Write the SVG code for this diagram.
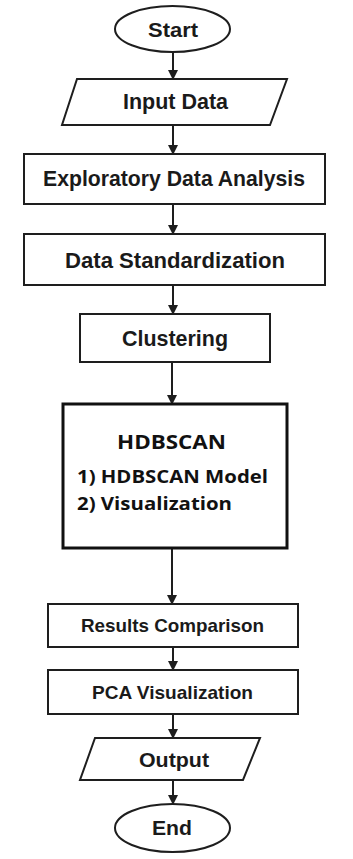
<svg xmlns="http://www.w3.org/2000/svg" width="353" height="859" viewBox="0 0 353 859">
<defs>
<style>
.shape{fill:#fff;stroke:#1e1e1e;stroke-width:2}
.thick{fill:#fff;stroke:#111;stroke-width:3}
.t{font-family:"Liberation Sans",Arial,sans-serif;font-weight:bold;fill:#1a1a1a;text-anchor:middle}
.h{font-family:"Open Sans","Noto Sans",sans-serif;font-weight:bold;fill:#111}
.c{stroke:#1e1e1e;stroke-width:2;fill:none;marker-end:url(#arr)}
</style>
<marker id="arr" markerWidth="10" markerHeight="10" refX="9" refY="5" orient="auto" markerUnits="userSpaceOnUse">
<path d="M0,0 L10,5 L0,10 Z" fill="#1e1e1e"/>
</marker>
</defs>
<rect width="353" height="859" fill="#fff"/>
<g id="connectors">
<line class="c" x1="173" y1="52" x2="173" y2="79"/>
<line class="c" x1="173" y1="125" x2="173" y2="154"/>
<line class="c" x1="173" y1="204" x2="173" y2="234"/>
<line class="c" x1="173" y1="285" x2="173" y2="314"/>
<line class="c" x1="172" y1="362" x2="172" y2="404"/>
<line class="c" x1="172" y1="548" x2="172" y2="604"/>
<line class="c" x1="173" y1="647" x2="173" y2="670"/>
<line class="c" x1="173" y1="714" x2="173" y2="738"/>
<line class="c" x1="173" y1="780" x2="173" y2="804"/>
</g>
<g id="start">
<ellipse class="shape" cx="172.5" cy="29" rx="57.5" ry="23"/>
<text class="t" x="173" y="37" font-size="21" textLength="50" lengthAdjust="spacingAndGlyphs">Start</text>
</g>
<g id="input">
<polygon class="shape" points="77,79 287,79 270,125 62,125"/>
<text class="t" x="175.5" y="109" font-size="21.5" textLength="105" lengthAdjust="spacingAndGlyphs">Input Data</text>
</g>
<g id="eda">
<rect class="shape" x="24" y="154" width="301" height="50"/>
<text class="t" x="174" y="186" font-size="21.5" textLength="262" lengthAdjust="spacingAndGlyphs">Exploratory Data Analysis</text>
</g>
<g id="standardization">
<rect class="shape" x="24" y="234" width="301" height="51"/>
<text class="t" x="175" y="268" font-size="21.5" textLength="220" lengthAdjust="spacingAndGlyphs">Data Standardization</text>
</g>
<g id="clustering">
<rect class="shape" x="80" y="314" width="190" height="48"/>
<text class="t" x="175" y="346" font-size="21.5" textLength="106" lengthAdjust="spacingAndGlyphs">Clustering</text>
</g>
<g id="hdbscan">
<rect class="thick" x="63" y="404" width="224" height="144"/>
<text class="h" x="171.5" y="449" font-size="20" text-anchor="middle" textLength="109" lengthAdjust="spacingAndGlyphs">HDBSCAN</text>
<text class="h" x="77" y="483" font-size="18" textLength="191" lengthAdjust="spacingAndGlyphs">1) HDBSCAN Model</text>
<text class="h" x="77" y="510" font-size="18" textLength="155" lengthAdjust="spacingAndGlyphs">2) Visualization</text>
</g>
<g id="results">
<rect class="shape" x="48" y="604" width="250" height="43"/>
<text class="t" x="172.5" y="632" font-size="18.5" textLength="183" lengthAdjust="spacingAndGlyphs">Results Comparison</text>
</g>
<g id="pca">
<rect class="shape" x="48" y="670" width="250" height="44"/>
<text class="t" x="172.5" y="699" font-size="18.5" textLength="161" lengthAdjust="spacingAndGlyphs">PCA Visualization</text>
</g>
<g id="output">
<polygon class="shape" points="95,738 260,738 243,780 80,780"/>
<text class="t" x="174" y="767" font-size="21" textLength="70" lengthAdjust="spacingAndGlyphs">Output</text>
</g>
<g id="end">
<ellipse class="shape" cx="172.5" cy="828" rx="57.5" ry="24"/>
<text class="t" x="172" y="835" font-size="21" textLength="40" lengthAdjust="spacingAndGlyphs">End</text>
</g>
</svg>
